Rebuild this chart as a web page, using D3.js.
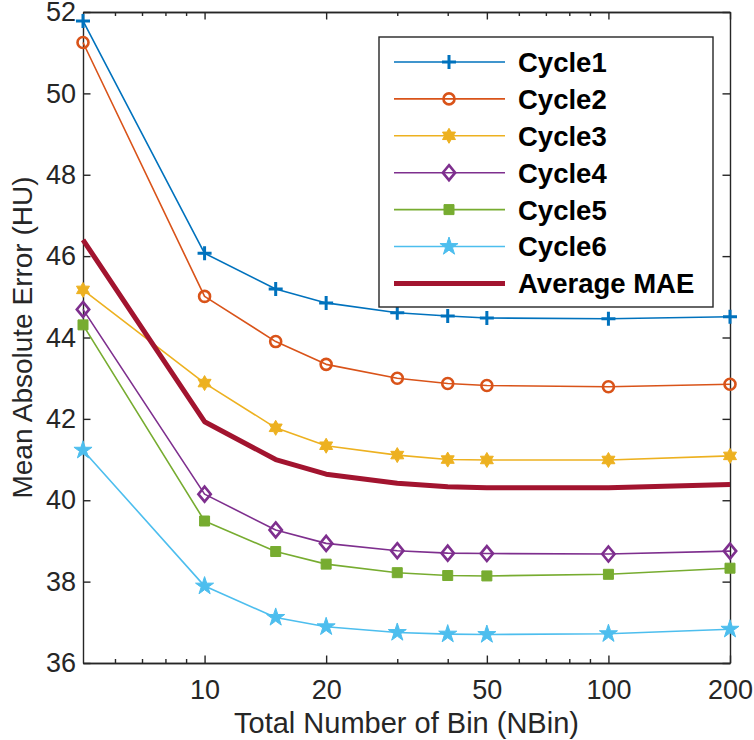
<!DOCTYPE html>
<html>
<head>
<meta charset="utf-8">
<script src="https://cdn.jsdelivr.net/npm/d3@7"></script>
<style>
  html, body { margin: 0; padding: 0; background: #fff; }
  svg { display: block; }
  text { font-family: "Liberation Sans", Arial, Helvetica, sans-serif; }
</style>
</head>
<body>
<svg id="chart" width="754" height="740"></svg>
<script>
// ---- data ----
const nbin    = [5, 10, 15, 20, 30, 40, 50, 100, 200];
const cycle1  = [51.78, 46.07, 45.19, 44.85, 44.61, 44.53, 44.48, 44.46, 44.51];
const cycle2  = [51.25, 45.01, 43.90, 43.34, 43.00, 42.87, 42.82, 42.79, 42.85];
const cycle3  = [45.17, 42.88, 41.78, 41.34, 41.11, 41.00, 40.99, 40.99, 41.09];
const cycle4  = [44.69, 40.15, 39.27, 38.94, 38.76, 38.70, 38.69, 38.68, 38.75];
const cycle5  = [44.31, 39.49, 38.74, 38.43, 38.22, 38.15, 38.14, 38.18, 38.33];
const cycle6  = [41.23, 37.89, 37.12, 36.89, 36.75, 36.71, 36.70, 36.72, 36.83];
const average = [46.40, 41.93, 41.00, 40.64, 40.42, 40.33, 40.31, 40.31, 40.39];
const seriesNames = ["Cycle1", "Cycle2", "Cycle3", "Cycle4", "Cycle5", "Cycle6", "Average MAE"];
const xTicks = [10, 20, 50, 100, 200];
const xMinorTicks = [6, 7, 8, 9, 30, 40, 60, 70, 80, 90];
const yTicks = [36, 38, 40, 42, 44, 46, 48, 50, 52];
const xDomain = [5, 200];
const yDomain = [36, 52];

// ---- styles ----
const colors  = ["#0072BD", "#D95319", "#EDB120", "#7E2F8E", "#77AC30", "#4DBEEE", "#A2142F"];
const markers = ["plus", "circle", "hexagram", "diamond", "square", "pentagram", null];
const values  = [cycle1, cycle2, cycle3, cycle4, cycle5, cycle6, average];

const margin = {left: 83, right: 24, top: 12, bottom: 77};
const W = 754, H = 740;
const svg = d3.select("#chart");
const x = d3.scaleLog().domain(xDomain).range([margin.left, W - margin.right]);
const y = d3.scaleLinear().domain(yDomain).range([H - margin.bottom, margin.top]);
const axisColor = "#262626";

function markerPath(type) {
  const p = d3.path();
  if (type === "plus") {
    p.moveTo(-7, 0); p.lineTo(7, 0); p.moveTo(0, -7); p.lineTo(0, 7);
  } else if (type === "circle") {
    p.arc(0, 0, 5.5, 0, 2 * Math.PI);
  } else if (type === "diamond") {
    p.moveTo(0, -7.5); p.lineTo(6.2, 0); p.lineTo(0, 7.5); p.lineTo(-6.2, 0); p.closePath();
  } else if (type === "square") {
    p.rect(-5, -5, 10, 10);
  } else if (type === "pentagram") {
    const R = 9.5, r = R * 0.382;
    for (let i = 0; i < 10; i++) {
      const a = -Math.PI / 2 + i * Math.PI / 5;
      const rr = i % 2 === 0 ? R : r;
      if (i === 0) p.moveTo(rr * Math.cos(a), rr * Math.sin(a));
      else p.lineTo(rr * Math.cos(a), rr * Math.sin(a));
    }
    p.closePath();
  } else if (type === "hexagram") {
    const R = 7.5, r = R / Math.sqrt(3);
    for (let i = 0; i < 12; i++) {
      const a = -Math.PI / 2 + i * Math.PI / 6;
      const rr = i % 2 === 0 ? R : r;
      if (i === 0) p.moveTo(rr * Math.cos(a), rr * Math.sin(a));
      else p.lineTo(rr * Math.cos(a), rr * Math.sin(a));
    }
    p.closePath();
  }
  return p.toString();
}
function markerStyle(sel, type, color) {
  const filled = (type === "square" || type === "pentagram" || type === "hexagram");
  sel.attr("d", markerPath(type))
     .attr("fill", filled ? color : "none")
     .attr("stroke", color)
     .attr("stroke-width", type === "plus" ? 3 : (filled ? 1 : 2.6))
     .attr("stroke-linejoin", "miter");
}

// ---- axes ----
function styleAxis(g) {
  g.selectAll("path.domain").attr("stroke", axisColor).attr("stroke-width", 1.4);
  g.selectAll(".tick line").attr("stroke", axisColor).attr("stroke-width", 1.4);
  g.selectAll(".tick text").attr("fill", axisColor).attr("font-size", 27)
    .style("font-family", "'Liberation Sans', Arial, Helvetica, sans-serif");
}
const yBottom = y.range()[0], yTop = y.range()[1];
const xLeft = x.range()[0], xRight = x.range()[1];

svg.append("g").attr("transform", `translate(0,${yBottom})`)
  .call(d3.axisBottom(x).tickValues(xTicks).tickFormat(d3.format("d")).tickSizeInner(-7.5).tickSizeOuter(0).tickPadding(17))
  .call(styleAxis);
svg.append("g").attr("transform", `translate(0,${yBottom})`)
  .call(d3.axisBottom(x).tickValues(xMinorTicks).tickFormat("").tickSizeInner(-4).tickSizeOuter(0))
  .call(styleAxis);
svg.append("g").attr("transform", `translate(0,${yTop})`)
  .call(d3.axisTop(x).tickValues(xTicks).tickFormat("").tickSizeInner(-7.5).tickSizeOuter(0))
  .call(styleAxis);
svg.append("g").attr("transform", `translate(0,${yTop})`)
  .call(d3.axisTop(x).tickValues(xMinorTicks).tickFormat("").tickSizeInner(-4).tickSizeOuter(0))
  .call(styleAxis);
svg.append("g").attr("transform", `translate(${xLeft},0)`)
  .call(d3.axisLeft(y).tickValues(yTicks).tickFormat(d3.format("d")).tickSizeInner(-7.5).tickSizeOuter(0).tickPadding(7))
  .call(styleAxis);
svg.append("g").attr("transform", `translate(${xRight},0)`)
  .call(d3.axisRight(y).tickValues(yTicks).tickFormat("").tickSizeInner(-7.5).tickSizeOuter(0))
  .call(styleAxis);

// axis titles
svg.append("text")
  .attr("x", (xLeft + xRight) / 2).attr("y", 733)
  .attr("text-anchor", "middle").attr("font-size", 29).attr("fill", axisColor)
  .text("Total Number of Bin (NBin)");
svg.append("text")
  .attr("transform", `translate(32,${(yTop + yBottom) / 2}) rotate(-90)`)
  .attr("text-anchor", "middle").attr("font-size", 28).attr("fill", axisColor)
  .text("Mean Absolute Error (HU)");

// ---- series ----
const line = d3.line().x(d => x(d[0])).y(d => y(d[1]));
values.forEach((vals, i) => {
  const pts = nbin.map((n, j) => [n, vals[j]]);
  const g = svg.append("g");
  g.append("path").datum(pts)
    .attr("d", line).attr("fill", "none")
    .attr("stroke", colors[i])
    .attr("stroke-width", i === 6 ? 5 : 1.6)
    .attr("stroke-linejoin", "round");
  if (markers[i]) {
    g.selectAll("path.m").data(pts).enter().append("path")
      .attr("class", "m")
      .attr("transform", d => `translate(${x(d[0])},${y(d[1])})`)
      .call(sel => markerStyle(sel, markers[i], colors[i]));
  }
});

// ---- legend ----
const lg = svg.append("g");
const lgX = 379, lgY = 37, lgW = 334, lgH = 270;
lg.append("rect").attr("x", lgX).attr("y", lgY).attr("width", lgW).attr("height", lgH)
  .attr("fill", "#fff").attr("stroke", axisColor).attr("stroke-width", 1.4);
seriesNames.forEach((name, i) => {
  const cy = 62 + i * 36.9;
  lg.append("line").attr("x1", 394).attr("x2", 505).attr("y1", cy).attr("y2", cy)
    .attr("stroke", colors[i]).attr("stroke-width", i === 6 ? 5 : 1.6);
  if (markers[i]) {
    lg.append("path").attr("transform", `translate(449,${cy})`)
      .call(sel => markerStyle(sel, markers[i], colors[i]));
  }
  lg.append("text").attr("x", 518).attr("y", cy).attr("dy", "0.36em")
    .attr("font-size", 27.5).attr("font-weight", "bold").attr("fill", "#000")
    .text(name);
});
</script>
</body>
</html>
